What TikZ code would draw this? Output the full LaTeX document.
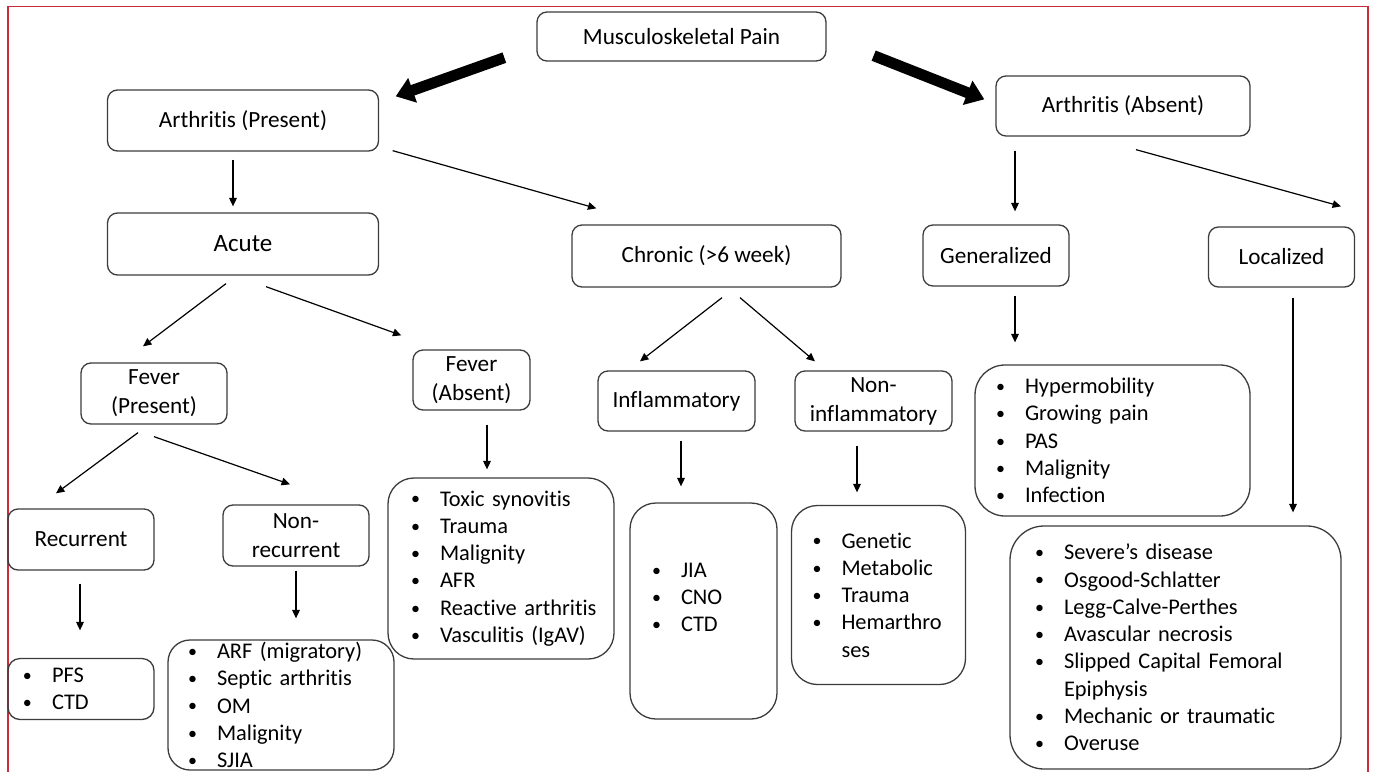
\documentclass[tikz,border=0pt]{standalone}
\usepackage{fontspec}
\setmainfont{Carlito}[Ligatures=NoCommon]
\usetikzlibrary{arrows.meta,calc}
\definecolor{framered}{RGB}{200,45,60}
\definecolor{boxline}{RGB}{60,60,60}
\newcommand{\smbullet}{\raisebox{0.6pt}{\fontsize{9}{9}\selectfont\textbullet}}
\newcommand{\bitem}[1]{\mbox{\makebox[14.5pt][l]{\smbullet}#1}}
\newcommand{\bcont}[1]{\mbox{\hspace*{14.5pt}#1}}
\begin{document}
\begin{tikzpicture}[x=0.5pt,y=-0.5pt,
  box/.style={draw=boxline,line width=0.65pt,rounded corners=5pt,align=center,
    font=\fontsize{11.6}{14.5}\selectfont,inner sep=0pt},
  listbox/.style={draw=boxline,line width=0.65pt,rounded corners=13pt,align=left,
    font=\fontsize{11.2}{13.65}\selectfont,inner ysep=0pt},
  conn/.style={draw=black,line width=0.6pt,-{Triangle[length=4.2pt,width=3.8pt]}},
  bigconn/.style={draw=black,line width=5.5pt,-{Triangle[length=9pt,width=12.5pt]}}
]
\clip (0,0) rectangle (1375,771);
\fill[white] (0,0) rectangle (1375,771);
\draw[framered,line width=0.7pt] (8,775) -- (8,6.5) -- (1368,6.5) -- (1368,775);

% level nodes
\node[box,minimum width=144.5pt,minimum height=24.5pt] (musc) at (681.5,36.5) {Musculoskeletal Pain};
\node[box,minimum width=135.5pt,minimum height=30.5pt] (ap) at (243,120.5) {Arthritis (Present)};
\node[box,minimum width=127pt,minimum height=30pt] (aab) at (1123,106) {Arthritis (Absent)};
\node[box,minimum width=135.5pt,minimum height=31pt,font=\fontsize{12.5}{15}\selectfont] (acute) at (243,244) {Acute};
\node[box,minimum width=134.5pt,minimum height=31pt] (chronic) at (706.5,256) {Chronic (>6 week)};
\node[box,minimum width=73pt,minimum height=30.5pt] (gen) at (996,255.5) {Generalized};
\node[box,minimum width=73pt,minimum height=30pt] (loc) at (1281.5,257) {Localized};
\node[box,minimum width=73pt,minimum height=30.5pt] (fp) at (154,393.5) {Fever\\(Present)};
\node[box,minimum width=58.5pt,minimum height=30pt] (fa) at (471.5,380) {Fever\\(Absent)};
\node[box,minimum width=78.5pt,minimum height=30pt] (infl) at (676.5,401) {Inflammatory};
\node[box,minimum width=78.5pt,minimum height=30pt] (ninfl) at (873.5,401) {Non-\\inflammatory};
\node[box,minimum width=73pt,minimum height=30.5pt] (rec) at (81,539.5) {Recurrent};
\node[box,minimum width=73pt,minimum height=30.5pt] (nrec) at (296,535.5) {Non-\\recurrent};

% list boxes
\node[listbox,inner xsep=11.5pt,text width=90pt,minimum height=90.5pt] (falist) at (501,568.5)
 {\bitem{Toxic synovitis}\\\bitem{Trauma}\\\bitem{Malignity}\\\bitem{AFR}\\\bitem{Reactive arthritis}\\\bitem{Vasculitis (IgAV)}};
\node[listbox,inner xsep=11pt,text width=51.5pt,minimum height=108pt] (infllist) at (703.5,611)
 {\bitem{JIA}\\\bitem{CNO}\\\bitem{CTD}\\\rule{0pt}{10pt}};
\node[listbox,inner xsep=10.5pt,text width=66pt,minimum height=89.5pt] (ninfllist) at (878.5,595)
 {\bitem{Genetic}\\\bitem{Metabolic}\\\bitem{Trauma}\\\bitem{Hemarthro}\\\bcont{ses}};
\node[listbox,inner xsep=10.5pt,text width=116.5pt,minimum height=75.5pt,rounded corners=15pt] (genlist) at (1112.5,440.5)
 {\bitem{Hypermobility}\\\bitem{Growing pain}\\\bitem{PAS}\\\bitem{Malignity}\\\bitem{Infection}};
\node[listbox,inner xsep=12.5pt,text width=140.5pt,minimum height=121.5pt,rounded corners=17pt] (loclist) at (1175.5,647.5)
 {\bitem{Severe’s disease}\\\bitem{Osgood-Schlatter}\\\bitem{Legg-Calve-Perthes}\\\bitem{Avascular necrosis}\\\bitem{Slipped Capital Femoral}\\\bcont{Epiphysis}\\\bitem{Mechanic or traumatic}\\\bitem{Overuse}};
\node[listbox,inner xsep=7.5pt,text width=58pt,minimum height=30.5pt,rounded corners=6pt] (reclist) at (81,689)
 {\bitem{PFS}\\\bitem{CTD}};
\node[listbox,inner xsep=10pt,text width=93pt,minimum height=65pt,rounded corners=11pt] (nreclist) at (281,705)
 {\bitem{ARF (migratory)}\\\bitem{Septic arthritis}\\\bitem{OM}\\\bitem{Malignity}\\\bitem{SJIA}};

% big arrows
\draw[bigconn] ($(musc.south west)+(-32,-4)$) -- ($(ap.north east)+(16.5,7)$);
\draw[bigconn] ($(musc.south east)+(47,-6)$) -- ($(aab.north west)+(-11,24)$);

% connectors
\draw[conn] ($(ap.south)+(-10,8)$) -- ($(acute.north)+(-10,-6)$);
\draw[conn] ($(ap.south east)+(13.5,-1)$) -- ($(chronic.north west)+(25,-16)$);
\draw[conn] ($(acute.south)+(-17,8)$) -- ($(fp.north)+(-11,-16)$);
\draw[conn] ($(acute.south)+(23,11)$) -- ($(fa.north west)+(-11,-14)$);
\draw[conn] ($(chronic.south)+(15.5,10)$) -- ($(infl.north)+(-36.5,-9)$);
\draw[conn] ($(chronic.south)+(33.5,10)$) -- ($(ninfl.north)+(-58.5,-9)$);
\draw[conn] ($(aab.south)+(-108,14)$) -- ($(gen.north)+(19,-13)$);
\draw[conn] ($(aab.south)+(13,13)$) -- ($(loc.north)+(59.5,-20)$);
\draw[conn] ($(gen.south)+(19,9)$) -- ($(genlist.north)+(-97.5,-22)$);
\draw[conn] ($(loc.south)+(11.5,10)$) -- ($(loclist.north)+(117.5,-13)$);
\draw[conn] ($(fp.south)+(-16,8)$) -- ($(rec.north)+(-25,-15)$);
\draw[conn] ($(fp.south)+(0,12)$) -- ($(nrec.north)+(-6,-20)$);
\draw[conn] ($(rec.south)+(-1,13)$) -- ($(reclist.north)+(-1,-27.5)$);
\draw[conn] ($(nrec.south)+(0,4)$) -- ($(nreclist.north)+(15,-21)$);
\draw[conn] ($(fa.south)+(15.5,14)$) -- ($(falist.north)+(-14,-8)$);
\draw[conn] ($(infl.south)+(4.5,9)$) -- ($(infllist.north)+(-22.5,-16)$);
\draw[conn] ($(ninfl.south)+(-16.5,14)$) -- ($(ninfllist.north)+(-21.5,-12.5)$);
\end{tikzpicture}
\end{document}
